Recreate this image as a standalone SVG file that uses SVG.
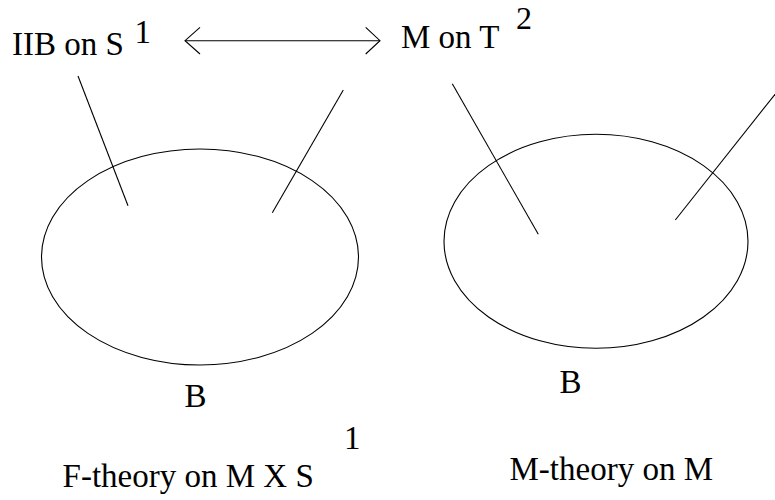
<svg xmlns="http://www.w3.org/2000/svg" width="775" height="500" viewBox="0 0 775 500">
  <style>
    text { font-family: 'Liberation Serif', 'DejaVu Serif', serif; font-size: 33px; fill: #000; }
    .s { fill: none; stroke: #000; stroke-width: 1.1; }
  </style>
  <rect width="775" height="500" fill="#fff"/>
  <g id="left-base">
    <ellipse class="s" cx="200" cy="257" rx="158.5" ry="108"/>
    <text x="184.5" y="406.7">B</text>
  </g>
  <g id="right-base">
    <ellipse class="s" cx="596" cy="241.3" rx="152" ry="107"/>
    <text x="559.5" y="392.7">B</text>
  </g>
  <g id="iib">
    <text x="12" y="55">IIB on S</text>
    <text x="134.5" y="42.7">1</text>
  </g>
  <g id="mt2">
    <text x="401" y="48.3">M on T</text>
    <text x="516" y="28.5" style="font-size:32px">2</text>
  </g>
  <g id="f-caption">
    <text x="62.6" y="486.7">F-theory on M X S</text>
    <text x="344" y="449">1</text>
  </g>
  <g id="m-caption">
    <text x="509.5" y="480">M-theory on M</text>
  </g>
  <g id="connectors">
    <line class="s" x1="185" y1="40.7" x2="380" y2="40.7"/>
    <polyline class="s" points="200,27.3 185,40.7 200,54"/>
    <polyline class="s" points="365.7,27.3 380,40.7 365.7,54"/>
    <line class="s" x1="78" y1="76" x2="128" y2="205.7"/>
    <line class="s" x1="343.3" y1="90" x2="272.3" y2="212.7"/>
    <line class="s" x1="452.3" y1="83.7" x2="538.3" y2="234.3"/>
    <line class="s" x1="776" y1="93" x2="675.3" y2="220"/>
  </g>
</svg>
